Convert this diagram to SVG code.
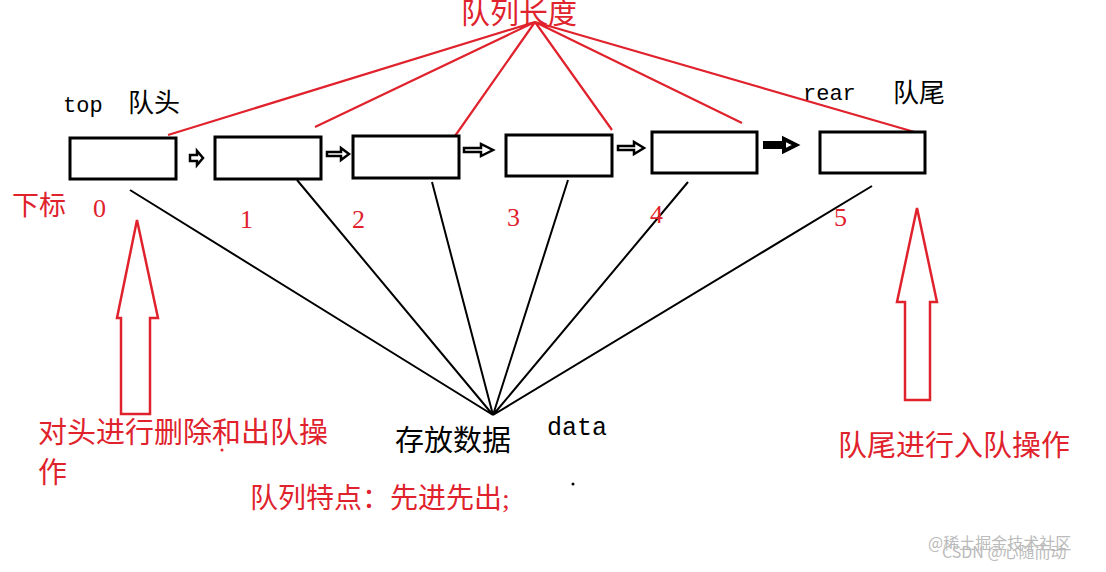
<svg xmlns="http://www.w3.org/2000/svg" width="1106" height="572" viewBox="0 0 1106 572">
<style>
.box{fill:#fff;stroke:#000;stroke-width:3}
.r{stroke:#e0222d;stroke-width:2.2;fill:none}
.k{stroke:#000;stroke-width:2;fill:none}
.ra{fill:none;stroke:#e0222d;stroke-width:2.5}
.sa{fill:#fff;stroke:#000;stroke-width:2.5}
.t{font-family:"Liberation Serif","Noto Sans CJK SC",serif}
.m{font-family:"Liberation Mono","Noto Sans CJK SC",monospace}
.red{fill:#e0222d}
.blk{fill:#000}
.wm{font-family:"Noto Sans CJK SC",sans-serif;font-size:16px;fill:#bbb}
</style>
<rect width="1106" height="572" fill="#fff"/>
<g id="connectors">
<path class="r" d="M535 22L168 135M535 22L315 127M535 22L455 136M535 22L612 130M535 22L742 123M535 22L918 133"/>
<path class="k" d="M493 415L130 190M493 415L297 180M493 415L432 182M493 415L568 180M493 415L688 182M493 415L872 186"/>
<path class="sa" d="M190 155h7v-4l6 7-6 7v-4h-7z"/>
<path class="sa" d="M327 152h14v-4l8 6-8 6v-4h-14z"/>
<path class="sa" d="M464 148h17v-4l12 6-12 6v-4h-17z"/>
<path class="sa" d="M618 146h16v-4l10 6-10 6v-4h-16z"/>
<path d="M765 143h19v-4l12 6-12 6v-4h-19z" fill="#fff" stroke="#000" stroke-width="4"/>
</g>
<g id="n0"><rect class="box" x="70" y="138" width="106" height="41"/></g>
<g id="n1"><rect class="box" x="215" y="137" width="106" height="42"/></g>
<g id="n2"><rect class="box" x="353" y="136" width="106" height="42"/></g>
<g id="n3"><rect class="box" x="506" y="135" width="106" height="41"/></g>
<g id="n4"><rect class="box" x="652" y="132" width="105" height="41"/></g>
<g id="n5"><rect class="box" x="820" y="132" width="105" height="41"/></g>
<g id="arrowL"><path class="ra" d="M137 220L117 318H121V414H150V318H158Z"/></g>
<g id="arrowR"><path class="ra" d="M917 208L897 302H905V400H930V302H937Z"/></g>
<g id="labels">
<text x="461" y="24" font-size="29" class="red t">队列长度</text>
<text x="63" y="112" font-size="22" class="blk m">top</text>
<text x="128" y="112" font-size="26" class="blk t">队头</text>
<text x="803" y="100" font-size="22" class="blk m">rear</text>
<text x="893" y="102" font-size="26" class="blk t">队尾</text>
<text x="12" y="215" font-size="27" class="red t">下标</text>
<text x="93" y="217" font-size="26" class="red t">0</text>
<text x="240" y="228" font-size="26" class="red t">1</text>
<text x="352" y="228" font-size="26" class="red t">2</text>
<text x="507" y="226" font-size="26" class="red t">3</text>
<text x="650" y="223" font-size="26" class="red t">4</text>
<text x="834" y="226" font-size="26" class="red t">5</text>
<text x="38" y="443" font-size="29" class="red t">对头进行删除和出队操</text>
<text x="38" y="483" font-size="29" class="red t">作</text>
<text x="395" y="451" font-size="29" class="blk t">存放数据</text>
<text x="547" y="435" font-size="25" class="blk m">data</text>
<text x="250" y="508" font-size="28" class="red t">队列特点：先进先出;</text>
<text x="838" y="456" font-size="29" class="red t">队尾进行入队操作</text>
</g>
<circle cx="222" cy="450" r="1.5" fill="#e0222d"/>
<circle cx="573" cy="484" r="1.5" fill="#000"/>
<text x="928" y="549" class="wm">@稀土掘金技术社区</text>
<text x="942" y="558" class="wm">CSDN @心随而动</text>
</svg>
